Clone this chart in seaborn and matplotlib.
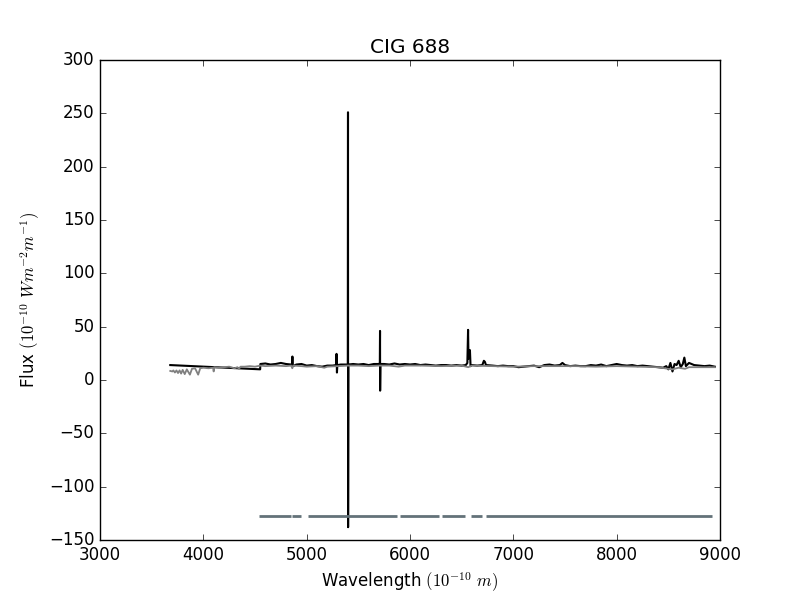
import numpy as np
import pandas as pd
import matplotlib
matplotlib.use("Agg")
import matplotlib.pyplot as plt
import seaborn as sns

obs_wave = [3680, 4550, 4552, 4600, 4650, 4700, 4750, 4800, 4850, 4858, 4862, 4866,
            4900, 4950, 5000, 5050, 5100, 5150, 5200, 5250, 5285, 5289, 5293, 5297,
            5330, 5370, 5398, 5400, 5401, 5404, 5450, 5500, 5550, 5600, 5650, 5700,
            5708, 5710, 5711, 5714, 5750, 5800, 5850, 5900, 5950, 6000, 6050, 6100,
            6150, 6200, 6250, 6300, 6350, 6400, 6450, 6500, 6540, 6555, 6562, 6566,
            6580, 6586, 6600, 6650, 6700, 6715, 6725, 6735, 6800, 6850, 6900, 6950,
            7000, 7050, 7100, 7150, 7200, 7250, 7300, 7350, 7400, 7450, 7475, 7500,
            7550, 7600, 7650, 7700, 7750, 7800, 7850, 7900, 7950, 8000, 8050, 8100,
            8150, 8200, 8250, 8300, 8350, 8400, 8450, 8480, 8500, 8520, 8540, 8560,
            8580, 8600, 8620, 8640, 8655, 8670, 8700, 8750, 8800, 8850, 8900, 8950]
obs_flux = [14, 10, 15, 15.5, 14.5, 15, 16, 15, 14.5, 14, 22, 13,
            14.5, 15, 13.5, 14, 13, 12.5, 13.5, 13.5, 14, 24.5, 7, 14,
            14.5, 14.5, 14.5, 251, -138, 14.5, 15, 14.5, 15, 14, 15, 15,
            16, 46, -10, 15, 15, 14.5, 15.5, 14.5, 15, 14.5, 15, 14,
            14.5, 14, 13.5, 14, 14, 13.5, 14, 13.5, 14, 16, 47, 20,
            28, 13, 14, 13.5, 14, 18, 17, 14, 13.5, 13, 13.5, 13,
            13, 12, 12.5, 13, 13.5, 12, 14, 14.5, 13.5, 14, 16, 14,
            13, 13.5, 13, 13, 14, 13.5, 14.5, 13, 14, 15, 14, 13.5,
            14, 13, 13.5, 13, 12.5, 12, 11.5, 13, 10, 16, 8, 15,
            14, 18, 12, 15, 21, 13, 16, 14, 13.5, 13, 13.5, 12.5]

# model spectrum (grey)
mod_wave = [3680, 3700, 3710, 3725, 3740, 3755, 3770, 3785, 3800, 3820, 3840, 3870,
            3890, 3920, 3950, 3970, 4000, 4050, 4095, 4100, 4105, 4150, 4200, 4250,
            4300, 4330, 4345, 4360, 4400, 4450, 4500, 4550, 4600, 4700, 4800, 4850,
            4861, 4870, 4950, 5000, 5100, 5170, 5200, 5300, 5400, 5500, 5600, 5700,
            5800, 5890, 5950, 6100, 6300, 6500, 6563, 6600, 6800, 7000, 7200, 7400,
            7600, 7800, 8000, 8200, 8400, 8498, 8540, 8600, 8662, 8700, 8800, 8950]
mod_flux = [8.5, 8, 9, 7, 9, 6.5, 9, 6, 9.5, 5.5, 10, 5,
            10.5, 11, 5, 11, 11.5, 11, 11.5, 8, 12, 11.5, 12, 12.5,
            11, 12, 10.5, 12.5, 12.5, 13, 12.5, 13.5, 13, 13.5, 13, 13.5,
            11, 13.5, 13, 12.5, 13, 11.5, 12.5, 13, 13.5, 13.5, 13, 13.5,
            13.5, 12.5, 13.5, 13.5, 13, 13.5, 12, 13.5, 13, 12.5, 13, 13,
            13, 12.5, 13, 12.5, 12, 10.5, 10, 11.5, 10.5, 12, 12, 12]

# good-pixel mask segments drawn at the bottom
mask_start = [4539, 4858, 5013, 5903, 6310, 6590, 6735]
mask_end = [4848, 4945, 5874, 6281, 6532, 6697, 8923]
mask_level = -127.5

plt.style.use("classic")
fig, ax = plt.subplots(figsize=(8, 6), dpi=100)

obs = pd.DataFrame({"wave": obs_wave, "flux": obs_flux})
mod = pd.DataFrame({"wave": mod_wave, "flux": mod_flux})
sns.lineplot(data=obs, x="wave", y="flux", sort=False, estimator=None,
             color="black", lw=1.5, ax=ax)
sns.lineplot(data=mod, x="wave", y="flux", sort=False, estimator=None,
             color="#808080", lw=1.3, ax=ax)

seg_x, seg_y, seg_id = [], [], []
for i, (a, b) in enumerate(zip(mask_start, mask_end)):
    seg_x += [a, b]
    seg_y += [mask_level, mask_level]
    seg_id += [i, i]
mask = pd.DataFrame({"wave": seg_x, "flux": seg_y, "seg": seg_id})
sns.lineplot(data=mask, x="wave", y="flux", units="seg", estimator=None,
             color="#637279", lw=2, solid_capstyle="butt", ax=ax)

ax.set_xlim(3000, 9000)
ax.set_ylim(-150, 300)
ax.set_xlabel(r"Wavelength $(10^{-10}\ m)$")
ax.set_ylabel(r"Flux $(10^{-10}\ W m^{-2} m^{-1})$")
ax.set_title("CIG 688")

fig.savefig("out.png", dpi=100)
